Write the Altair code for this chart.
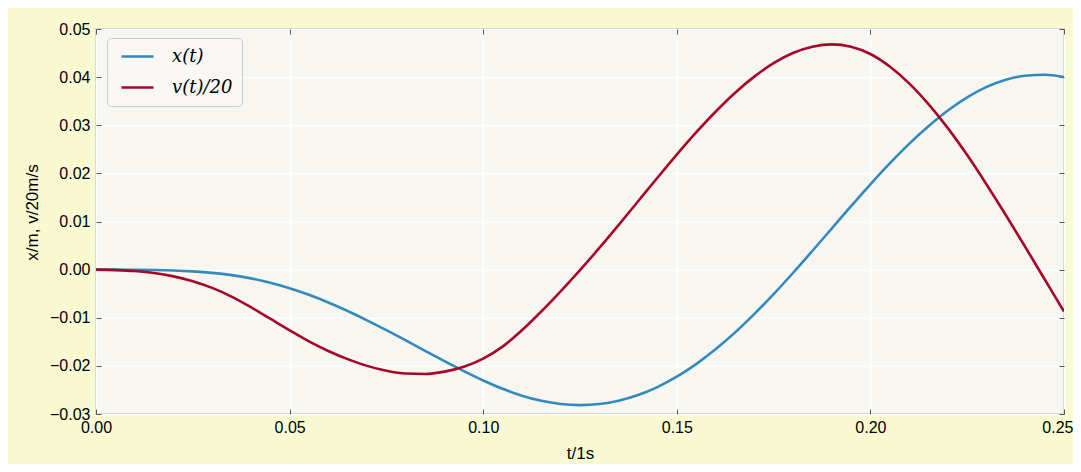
import altair as alt
import pandas as pd

# time axis (s)
t = [0.000, 0.005, 0.010, 0.015, 0.020, 0.025, 0.030, 0.035, 0.040, 0.045,
     0.050, 0.055, 0.060, 0.065, 0.070, 0.075, 0.080, 0.085, 0.090, 0.095,
     0.100, 0.105, 0.110, 0.115, 0.120, 0.125, 0.130, 0.135, 0.140, 0.145,
     0.150, 0.155, 0.160, 0.165, 0.170, 0.175, 0.180, 0.185, 0.190, 0.195,
     0.200, 0.205, 0.210, 0.215, 0.220, 0.225, 0.230, 0.235, 0.240, 0.245,
     0.250]

# x(t) in m
x_t = [0.00000, -0.00001, -0.00003, -0.00008, -0.00018, -0.00037, -0.00068, -0.00115, -0.00182, -0.00272,
       -0.00386, -0.00524, -0.00683, -0.00860, -0.01053, -0.01258, -0.01471, -0.01688, -0.01902, -0.02109,
       -0.02303, -0.02476, -0.02619, -0.02726, -0.02792, -0.02815, -0.02793, -0.02724, -0.02606, -0.02440,
       -0.02225, -0.01963, -0.01656, -0.01309, -0.00925, -0.00510, -0.00070, 0.00387, 0.00852, 0.01318,
       0.01773, 0.02208, 0.02613, 0.02978, 0.03305, 0.03580, 0.03798, 0.03948, 0.04030, 0.04050,
       0.04000]

# v(t)/20 in m/s
v_20 = [0.0000, -0.0001, -0.0003, -0.0007, -0.0014, -0.0024, -0.0038, -0.0056, -0.0078, -0.0102,
        -0.0126, -0.0149, -0.0169, -0.0186, -0.0200, -0.0210, -0.0216, -0.0217, -0.0212, -0.0202,
        -0.0185, -0.0160, -0.0126, -0.0087, -0.0045, -0.0001, 0.0045, 0.0093, 0.0142, 0.0191,
        0.0239, 0.0285, 0.0328, 0.0367, 0.0401, 0.0429, 0.0450, 0.0463, 0.0468, 0.0463,
        0.0448, 0.0422, 0.0387, 0.0344, 0.0294, 0.0238, 0.0177, 0.0113, 0.0047, -0.0020,
        -0.0087]

series_names = ["x(t)", "v(t)/20"]
series_colors = ["#348ABD", "#A60628"]
x_ticks = [0.00, 0.05, 0.10, 0.15, 0.20, 0.25]
y_ticks = [-0.03, -0.02, -0.01, 0.00, 0.01, 0.02, 0.03, 0.04, 0.05]

n = len(t)
df = pd.DataFrame({
    "t": t + t,
    "value": x_t + v_20,
    "series": [series_names[0]] * n + [series_names[1]] * n,
})

xscale = alt.Scale(domain=[0, 0.25], nice=False, zero=False)
yscale = alt.Scale(domain=[-0.03, 0.05], nice=False, zero=False)

tick_col = "#555555"
lab_font = "Liberation Sans"

lines = alt.Chart(df).mark_line(strokeWidth=2.6, interpolate="monotone", clip=True).encode(
    x=alt.X("t:Q", scale=xscale, axis=alt.Axis(
        title="t/1s", orient="bottom", values=x_ticks, format=".2f",
        offset=-5, tickSize=5, tickColor=tick_col, tickWidth=1, labelPadding=5,
        labelFlush=False,
        labelAlign=alt.ExprRef(expr="datum.value > 0.24 ? 'right' : 'center'"),
        labelOffset=alt.ExprRef(expr="datum.value > 0.24 ? 9 : 0"),
        domain=False, grid=True, gridColor="#ffffff", gridWidth=1.6,
        labelFont=lab_font, labelFontSize=16, labelColor="black",
        titleFont=lab_font, titleFontSize=17, titleFontWeight="normal", titleColor="black",
        titlePadding=10)),
    y=alt.Y("value:Q", scale=yscale, axis=alt.Axis(
        title="x/m, v/20m/s", orient="left", values=y_ticks, format=".2f",
        offset=-5, tickSize=5, tickColor=tick_col, tickWidth=1, labelPadding=6,
        labelFlush=False, domain=False, grid=True, gridColor="#ffffff", gridWidth=1.6,
        labelFont=lab_font, labelFontSize=16, labelColor="black",
        titleFont=lab_font, titleFontSize=17, titleFontWeight="normal", titleColor="black",
        titlePadding=8, titleY=183)),
    color=alt.Color("series:N", sort=series_names,
                    scale=alt.Scale(domain=series_names, range=series_colors),
                    legend=alt.Legend(
                        title=None, orient="none", legendX=11, legendY=9,
                        symbolType="M-0.5,0H3.5", symbolSize=256, symbolStrokeWidth=2.7,
                        labelFont="DejaVu Serif", labelFontStyle="italic", labelFontSize=18,
                        labelColor="black", labelOffset=37, padding=9, rowPadding=12,
                        strokeColor="#cccccc", fillColor="#f9f8f4", cornerRadius=4)),
)

mirror = alt.Chart(df).mark_line(opacity=0).encode(
    x=alt.X("t:Q", scale=xscale, axis=alt.Axis(
        orient="top", values=x_ticks, labels=False, title=None, offset=-5,
        tickSize=5, tickColor=tick_col, tickWidth=1, domain=False, grid=False)),
    y=alt.Y("value:Q", scale=yscale, axis=alt.Axis(
        orient="right", values=y_ticks, labels=False, title=None, offset=-5,
        tickSize=5, tickColor=tick_col, tickWidth=1, domain=False, grid=False)),
)

chart = alt.layer(lines, mirror).resolve_axis(x="independent", y="independent").properties(
    width=968, height=385,
    padding={"left": 88, "top": 21, "right": 9, "bottom": 50},
    autosize=alt.AutoSizeParams(type="none"),
    background="#fafad2",
).configure_view(
    fill="#f7f6f1", stroke="#bcbcbc", strokeWidth=1.5,
)

chart.save("out.html", embed_options={"renderer": "svg", "actions": False})
